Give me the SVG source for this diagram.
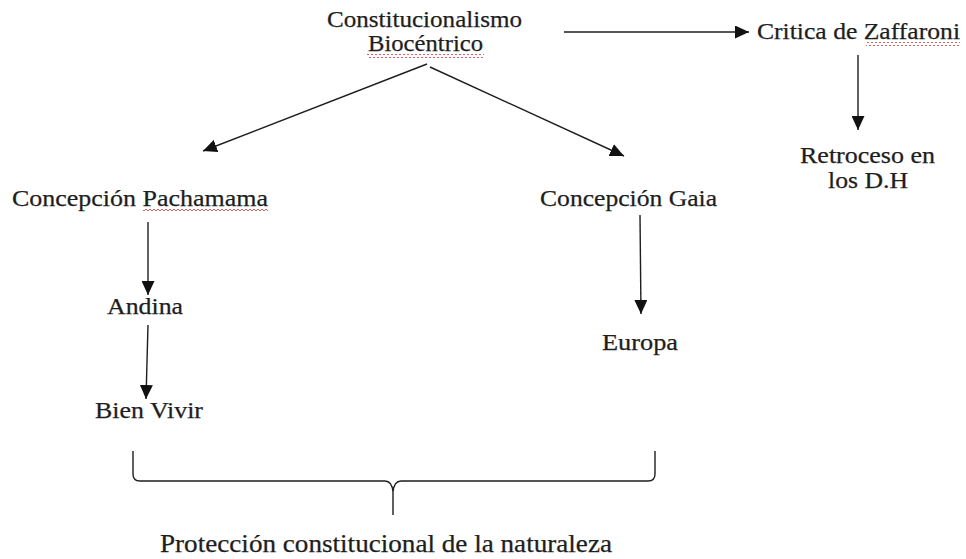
<svg xmlns="http://www.w3.org/2000/svg" width="966" height="559" viewBox="0 0 966 559">
<style>
text{font-family:"Liberation Serif","Times New Roman",serif;font-size:24px;fill:#1e1e1e;stroke:#1e1e1e;stroke-width:0.25}
.c{stroke:#1e1e1e;stroke-width:1.4;fill:none}
.a{marker-end:url(#ah)}
</style>
<defs>
<marker id="ah" markerUnits="userSpaceOnUse" markerWidth="15" markerHeight="13" refX="14" refY="6.5" orient="auto">
<path d="M0,0 L14,6.5 L0,13 Z" fill="#111"/>
</marker>
<pattern id="wv" patternUnits="userSpaceOnUse" width="4" height="4">
<path d="M0,3 L2,1 L4,3" stroke="#d23a3a" stroke-width="0.8" fill="none"/>
</pattern>
</defs>
<rect width="966" height="559" fill="#fff"/>
<g id="n-constitucionalismo">
<text x="327" y="27" textLength="195" lengthAdjust="spacingAndGlyphs">Constitucionalismo</text>
<text x="368" y="51" textLength="115" lengthAdjust="spacingAndGlyphs">Biocéntrico</text>
<rect x="367" y="54" width="117" height="4" fill="url(#wv)"/>
</g>
<g id="n-critica">
<text x="757" y="39" textLength="203" lengthAdjust="spacingAndGlyphs">Critica de Zaffaroni</text>
<rect x="866" y="42" width="94" height="4" fill="url(#wv)"/>
</g>
<g id="n-retroceso">
<text x="800" y="163" textLength="135" lengthAdjust="spacingAndGlyphs">Retroceso en</text>
<text x="828" y="188" textLength="80" lengthAdjust="spacingAndGlyphs">los D.H</text>
</g>
<g id="n-pachamama">
<text x="12" y="206" textLength="256" lengthAdjust="spacingAndGlyphs">Concepción Pachamama</text>
<rect x="143" y="209" width="125" height="4" fill="url(#wv)"/>
</g>
<g id="n-gaia">
<text x="540" y="206" textLength="177" lengthAdjust="spacingAndGlyphs">Concepción Gaia</text>
</g>
<g id="n-andina">
<text x="107" y="314" textLength="76" lengthAdjust="spacingAndGlyphs">Andina</text>
</g>
<g id="n-bienvivir">
<text x="95" y="418" textLength="108" lengthAdjust="spacingAndGlyphs">Bien Vivir</text>
</g>
<g id="n-europa">
<text x="602" y="350" textLength="76" lengthAdjust="spacingAndGlyphs">Europa</text>
</g>
<g id="n-proteccion">
<text x="160" y="552" textLength="452" lengthAdjust="spacingAndGlyphs" style="font-size:25px">Protección constitucional de la naturaleza</text>
</g>
<g id="connectors">
<line class="c a" x1="564" y1="32" x2="749" y2="32"/>
<line class="c a" x1="858" y1="55" x2="858" y2="130"/>
<line class="c a" x1="427" y1="64" x2="203" y2="151"/>
<line class="c a" x1="430" y1="67" x2="624" y2="156"/>
<line class="c a" x1="148" y1="222" x2="148" y2="295"/>
<line class="c a" x1="148" y1="325" x2="146" y2="399"/>
<line class="c a" x1="640" y1="215" x2="641" y2="314"/>
<path class="c" d="M133,451 L133,474 Q133,481 140,481 L385,481 Q392,481 393,492 L393,515 M393,492 Q394,481 401,481 L648,481 Q655,481 655,474 L655,451"/>
</g>
</svg>
